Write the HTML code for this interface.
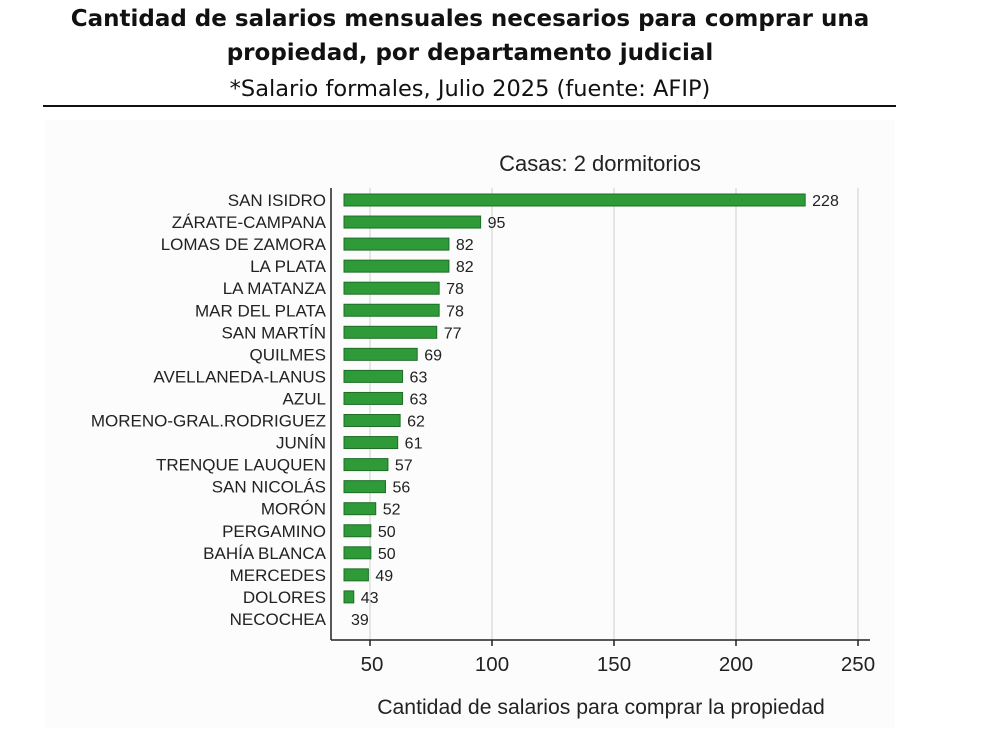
<!DOCTYPE html>
<html><head><meta charset="utf-8"><style>
body{margin:0;background:#fff;width:1000px;height:728px;overflow:hidden;font-family:"Liberation Sans",sans-serif}
</style></head><body>
<svg width="1000" height="728" xmlns="http://www.w3.org/2000/svg" font-family="Liberation Sans, sans-serif">
<text x="470" y="26" text-anchor="middle" font-family="DejaVu Sans, sans-serif" font-weight="bold" font-size="23" fill="#111">Cantidad de salarios mensuales necesarios para comprar una</text>
<text x="470" y="60" text-anchor="middle" font-family="DejaVu Sans, sans-serif" font-weight="bold" font-size="23" fill="#111">propiedad, por departamento judicial</text>
<text x="470" y="96" text-anchor="middle" font-family="DejaVu Sans, sans-serif" font-size="22.5" fill="#111">*Salario formales, Julio 2025 (fuente: AFIP)</text>
<line x1="43" y1="106" x2="896" y2="106" stroke="#111" stroke-width="2"/>
<rect x="45" y="120" width="850" height="608" fill="#fcfcfc"/>
<text x="600" y="171" text-anchor="middle" font-size="22" fill="#222">Casas: 2 dormitorios</text>
<g stroke="#ddd" stroke-width="1.5">
<line x1="370" y1="188" x2="370" y2="640"/><line x1="492" y1="188" x2="492" y2="640"/><line x1="614" y1="188" x2="614" y2="640"/><line x1="736" y1="188" x2="736" y2="640"/><line x1="858" y1="188" x2="858" y2="640"/>
</g>
<g id="bars" font-size="17" fill="#222"></g>
<line x1="331" y1="188" x2="331" y2="640" stroke="#222" stroke-width="1.5"/>
<line x1="331" y1="640" x2="870" y2="640" stroke="#222" stroke-width="1.5"/>
<g stroke="#222" stroke-width="1.5">
<line x1="370" y1="640" x2="370" y2="646"/><line x1="492" y1="640" x2="492" y2="646"/><line x1="614" y1="640" x2="614" y2="646"/><line x1="736" y1="640" x2="736" y2="646"/><line x1="858" y1="640" x2="858" y2="646"/>
</g>
<g font-size="20.5" fill="#222" text-anchor="middle">
<text x="372" y="671">50</text><text x="492" y="671">100</text><text x="614" y="671">150</text><text x="736" y="671">200</text><text x="858" y="671">250</text>
</g>
<text x="601" y="714" text-anchor="middle" font-size="21.2" fill="#222">Cantidad de salarios para comprar la propiedad</text>
</svg>
<script>
var d=[["SAN ISIDRO",228],["ZÁRATE-CAMPANA",95],["LOMAS DE ZAMORA",82],["LA PLATA",82],["LA MATANZA",78],["MAR DEL PLATA",78],["SAN MARTÍN",77],["QUILMES",69],["AVELLANEDA-LANUS",63],["AZUL",63],["MORENO-GRAL.RODRIGUEZ",62],["JUNÍN",61],["TRENQUE LAUQUEN",57],["SAN NICOLÁS",56],["MORÓN",52],["PERGAMINO",50],["BAHÍA BLANCA",50],["MERCEDES",49],["DOLORES",43],["NECOCHEA",39]];
var g=document.getElementById("bars"),s="";
d.forEach(function(r,i){var y=200+i*22.05,x0=344,x1=344+(r[1]-39)*2.44;
s+='<text x="326" y="'+(y+6)+'" text-anchor="end">'+r[0]+'</text>';
if(x1>x0)s+='<rect x="'+x0+'" y="'+(y-6)+'" width="'+(x1-x0)+'" height="12" fill="#2e9a38" stroke="#1f6e26" stroke-width="1"/>';
s+='<text x="'+(x1+7)+'" y="'+(y+6)+'" font-size="16">'+r[1]+'</text>';});
g.innerHTML=s;
</script>
</body></html>
